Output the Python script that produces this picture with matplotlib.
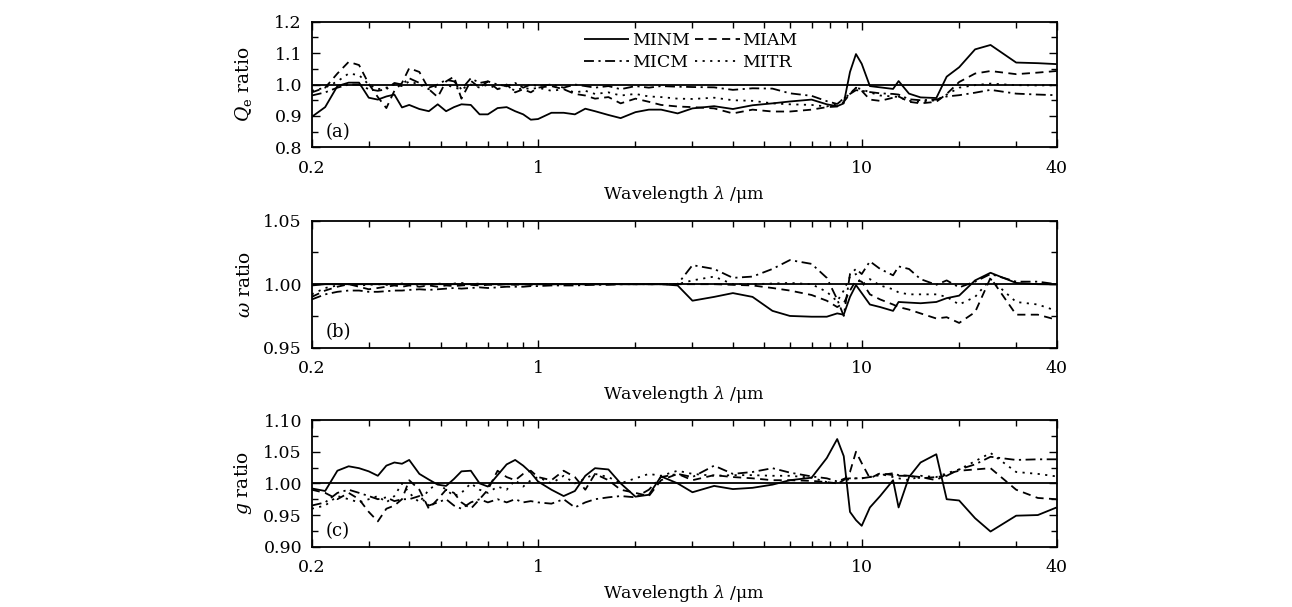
import matplotlib
matplotlib.use("Agg")
import matplotlib.pyplot as plt
from matplotlib.ticker import FixedLocator, MultipleLocator, NullFormatter

plt.rcParams['font.family'] = ['DejaVu Serif']
plt.rcParams['mathtext.fontset'] = 'dejavuserif'

# wavelength grid (um), shared by all series
wl = [0.2, 0.22, 0.24, 0.26, 0.28, 0.30, 0.32, 0.34, 0.36, 0.38,
      0.40, 0.43, 0.46, 0.49, 0.52, 0.55, 0.58, 0.62, 0.66, 0.70,
      0.75, 0.80, 0.85, 0.90, 0.95, 1.0, 1.1, 1.2, 1.3, 1.4,
      1.5, 1.65, 1.8, 2.0, 2.2, 2.4, 2.7, 3.0, 3.5, 4.0,
      4.6, 5.3, 6.0, 7.0, 7.8, 8.4, 8.8, 9.2, 9.6, 10.0,
      10.6, 11.4, 12.5, 13.0, 14.0, 15.2, 17.0, 18.3, 20.0, 22.4,
      25.0, 30.0, 35.0, 40.0]

series_names = ['MINM', 'MIAM', 'MICM', 'MITR']

# (a) extinction efficiency ratio
qe_minm = [0.897, 0.928, 0.995, 1.006, 1.006, 0.958, 0.952, 0.962, 0.968, 0.927,
           0.935, 0.922, 0.915, 0.937, 0.915, 0.928, 0.937, 0.935, 0.905, 0.905,
           0.925, 0.928, 0.915, 0.905, 0.888, 0.890, 0.910, 0.910, 0.905, 0.923,
           0.915, 0.903, 0.893, 0.912, 0.920, 0.920, 0.908, 0.924, 0.931, 0.922,
           0.934, 0.940, 0.946, 0.952, 0.937, 0.931, 0.940, 1.040, 1.097, 1.066,
           0.995, 0.991, 0.986, 1.011, 0.971, 0.959, 0.957, 1.025, 1.055, 1.112,
           1.126, 1.070, 1.068, 1.065]
qe_miam = [0.975, 0.990, 1.035, 1.072, 1.062, 1.002, 0.960, 0.925, 0.980, 1.005,
           1.052, 1.040, 0.985, 0.960, 1.010, 1.025, 0.955, 1.012, 0.990, 1.010,
           0.985, 1.000, 0.975, 0.985, 0.975, 0.990, 0.995, 0.985, 0.970, 0.965,
           0.955, 0.960, 0.940, 0.955, 0.945, 0.935, 0.930, 0.928, 0.924, 0.908,
           0.920, 0.914, 0.914, 0.920, 0.928, 0.930, 0.945, 0.970, 0.990, 0.980,
           0.952, 0.948, 0.958, 0.962, 0.945, 0.940, 0.945, 0.970, 1.008, 1.035,
           1.043, 1.033, 1.038, 1.043]
qe_micm = [0.965, 0.975, 0.990, 1.000, 1.000, 0.985, 0.980, 0.985, 1.005, 1.000,
           1.020, 1.005, 0.990, 1.000, 1.015, 1.010, 0.985, 1.020, 1.005, 1.010,
           1.000, 0.995, 1.005, 0.990, 1.000, 0.995, 1.000, 0.990, 1.000, 0.995,
           0.990, 0.995, 0.985, 0.995, 0.990, 0.995, 0.993, 0.992, 0.991, 0.983,
           0.988, 0.987, 0.972, 0.964, 0.947, 0.938, 0.955, 0.970, 0.982, 0.980,
           0.976, 0.972, 0.970, 0.968, 0.953, 0.950, 0.952, 0.962, 0.966, 0.974,
           0.983, 0.971, 0.968, 0.966]
qe_mitr = [0.980, 0.990, 1.010, 1.035, 1.030, 1.000, 0.985, 0.990, 1.000, 0.995,
           1.010, 1.000, 0.985, 0.995, 1.000, 0.990, 0.985, 1.000, 0.990, 1.000,
           0.985, 0.995, 0.980, 0.990, 0.985, 0.990, 0.980, 0.985, 0.975, 0.980,
           0.970, 0.975, 0.965, 0.970, 0.962, 0.960, 0.955, 0.954, 0.958, 0.950,
           0.948, 0.940, 0.937, 0.935, 0.930, 0.940, 0.955, 0.970, 0.990, 0.985,
           0.975, 0.965, 0.962, 0.960, 0.948, 0.945, 0.950, 0.968, 0.990, 0.998,
           1.003, 0.998, 0.997, 0.998]

# (b) single scattering albedo ratio
w_minm = [0.999, 1.000, 1.000, 1.000, 1.000, 1.000, 1.000, 1.000, 1.000, 1.000,
          1.000, 1.000, 1.000, 1.000, 1.000, 1.000, 1.000, 1.000, 1.000, 1.000,
          1.000, 1.000, 1.000, 1.000, 1.000, 1.000, 1.000, 1.000, 1.000, 1.000,
          1.000, 1.000, 1.000, 1.000, 1.000, 1.000, 0.999, 0.987, 0.990, 0.993,
          0.990, 0.979, 0.975, 0.9744, 0.9744, 0.977, 0.976, 0.990, 0.9993, 0.993,
          0.984, 0.982, 0.979, 0.986, 0.9855, 0.985, 0.986, 0.989, 0.991, 1.003,
          1.009, 1.001, 1.000, 0.9998]
w_miam = [0.990, 0.995, 0.998, 1.000, 0.998, 0.996, 0.997, 0.998, 0.999, 0.998,
          0.999, 0.998, 0.999, 0.998, 0.999, 0.9985, 0.999, 0.9995, 0.999, 0.9995,
          0.9995, 1.000, 0.9995, 1.000, 0.9995, 1.000, 1.000, 1.000, 1.000, 1.000,
          1.000, 1.000, 1.000, 1.000, 1.000, 1.000, 1.000, 1.000, 1.000, 0.9995,
          0.999, 0.997, 0.995, 0.9915, 0.987, 0.982, 0.985, 0.995, 1.003, 1.002,
          0.992, 0.988, 0.984, 0.982, 0.980, 0.977, 0.973, 0.974, 0.9695, 0.978,
          1.005, 0.976, 0.976, 0.972]
w_micm = [0.988, 0.992, 0.994, 0.995, 0.995, 0.994, 0.994, 0.9945, 0.995, 0.995,
          0.9955, 0.996, 0.9955, 0.996, 0.9965, 0.997, 0.9965, 0.997, 0.9975, 0.997,
          0.9975, 0.998, 0.998, 0.998, 0.9985, 0.9985, 0.999, 0.999, 0.999, 0.9993,
          0.9995, 0.9995, 1.000, 1.000, 1.000, 1.000, 1.000, 1.015, 1.012, 1.005,
          1.006, 1.012, 1.019, 1.016, 1.005, 0.988, 0.975, 1.008, 1.012, 1.008,
          1.018, 1.012, 1.007, 1.014, 1.012, 1.004, 0.9995, 1.003, 0.9975, 1.002,
          1.008, 1.002, 1.002, 1.000]
w_mitr = [0.992, 0.997, 0.999, 1.000, 0.999, 0.9995, 1.000, 0.9995, 1.000, 1.0005,
          1.000, 0.9995, 1.000, 1.0005, 1.000, 1.0005, 1.001, 1.000, 1.0005, 1.000,
          1.000, 1.000, 1.000, 1.000, 1.000, 1.000, 1.000, 1.000, 1.000, 1.000,
          1.000, 1.000, 1.000, 1.000, 1.000, 1.000, 1.000, 1.003, 1.006, 1.000,
          1.000, 1.0005, 1.001, 1.000, 0.994, 0.9865, 0.995, 1.006, 1.008, 0.9995,
          1.004, 0.999, 0.996, 0.9935, 0.992, 0.992, 0.992, 0.990, 0.984, 0.990,
          1.004, 0.986, 0.984, 0.979]

# (c) asymmetry factor ratio
g_minm = [0.992, 0.988, 1.020, 1.027, 1.024, 1.019, 1.012, 1.028, 1.033, 1.031,
          1.037, 1.015, 1.006, 0.998, 0.996, 1.007, 1.019, 1.020, 1.000, 0.995,
          1.013, 1.030, 1.037, 1.028, 1.017, 1.003, 0.990, 0.980, 0.988, 1.012,
          1.024, 1.022, 1.000, 0.979, 0.982, 1.011, 1.000, 0.986, 0.996, 0.991,
          0.993, 0.998, 1.005, 1.009, 1.040, 1.070, 1.043, 0.955, 0.942, 0.933,
          0.962, 0.980, 1.005, 0.962, 1.010, 1.033, 1.046, 0.975, 0.973, 0.945,
          0.924, 0.949, 0.950, 0.962]
g_miam = [0.990, 0.985, 0.975, 0.985, 0.975, 0.955, 0.940, 0.960, 0.965, 0.975,
          1.005, 0.990, 0.960, 0.975, 0.990, 0.985, 0.970, 0.960, 0.975, 0.990,
          1.020, 1.010, 1.005, 1.015, 1.020, 1.010, 1.005, 1.020, 1.010, 0.990,
          1.015, 1.005, 0.990, 0.985, 0.980, 1.005, 1.015, 1.005, 1.013, 1.010,
          1.008, 1.005, 1.005, 1.004, 1.002, 1.000, 1.005, 1.018, 1.050, 1.032,
          1.008, 1.016, 1.013, 1.012, 1.012, 1.010, 1.005, 1.015, 1.020, 1.022,
          1.024, 0.990, 0.977, 0.975]
g_micm = [0.965, 0.970, 0.985, 0.990, 0.985, 0.980, 0.975, 0.978, 0.972, 0.975,
          0.975, 0.980, 0.965, 0.970, 0.975, 0.965, 0.960, 0.970, 0.975, 0.970,
          0.975, 0.970, 0.975, 0.970, 0.972, 0.970, 0.968, 0.975, 0.962, 0.970,
          0.975, 0.978, 0.980, 0.978, 0.990, 1.010, 1.015, 1.010, 1.028, 1.015,
          1.018, 1.024, 1.017, 1.011, 1.008, 1.003, 1.007, 1.008, 1.008, 1.008,
          1.010, 1.013, 1.016, 1.013, 1.012, 1.008, 1.010, 1.012, 1.022, 1.030,
          1.042, 1.037, 1.038, 1.038]
g_mitr = [0.960, 0.965, 0.980, 0.975, 0.970, 0.975, 0.980, 0.970, 0.980, 1.000,
          0.985, 0.970, 0.990, 1.000, 0.990, 0.980, 0.985, 1.000, 0.990, 0.985,
          0.995, 0.990, 1.005, 0.995, 1.005, 1.010, 1.000, 1.012, 1.000, 1.008,
          1.015, 1.010, 1.000, 1.008, 1.015, 1.012, 1.020, 1.015, 1.012, 1.013,
          1.013, 1.012, 1.012, 1.009, 1.002, 1.000, 1.004, 1.007, 1.008, 1.008,
          1.010, 1.015, 1.010, 1.008, 1.005, 1.012, 1.010, 1.016, 1.022, 1.035,
          1.048, 1.018, 1.015, 1.011]

x_major = [0.2, 1, 10, 40]
x_major_labels = ['0.2', '1', '10', '40']
x_minor = [0.3, 0.4, 0.5, 0.6, 0.7, 0.8, 0.9, 2, 3, 4, 5, 6, 7, 8, 9, 20, 30]

STYLES = {
    'MINM': (0, ()),
    'MIAM': (0, (4.5, 3)),
    'MICM': (0, (5.5, 2.5, 1.2, 2.5)),
    'MITR': (0, (1.2, 3)),
}


def draw_panel(ax, data, ylim, ymajor, yminor, ylabel, tag, yfmt):
    ax.axhline(1.0, color='black', lw=1.3, zorder=1)
    lines = {}
    for name, vals in zip(series_names, data):
        ln, = ax.plot(wl, vals, color='black', lw=1.3, linestyle=STYLES[name], label=name)
        lines[name] = ln
    ax.set_xscale('log')
    ax.set_xlim(0.2, 40)
    ax.set_ylim(*ylim)
    ax.xaxis.set_major_locator(FixedLocator(x_major))
    ax.set_xticklabels(x_major_labels)
    ax.xaxis.set_minor_locator(FixedLocator(x_minor))
    ax.xaxis.set_minor_formatter(NullFormatter())
    ax.yaxis.set_major_locator(MultipleLocator(ymajor))
    ax.yaxis.set_minor_locator(MultipleLocator(yminor))
    ax.yaxis.set_major_formatter(plt.FormatStrFormatter(yfmt))
    ax.tick_params(which='both', direction='in', top=True, right=True, labelsize=12.5)
    ax.tick_params(axis='x', which='major', pad=9)
    ax.tick_params(axis='y', which='major', pad=7)
    ax.tick_params(which='major', length=6, width=1)
    ax.tick_params(which='minor', length=4, width=1)
    for s in ax.spines.values():
        s.set_linewidth(1.3)
    ax.set_xlabel('Wavelength $\\lambda$ /\u03bcm', fontsize=12.5, labelpad=5)
    ax.set_ylabel(ylabel, fontsize=13.5)
    ax.yaxis.set_label_coords(-0.078, 0.5)
    ax.text(0.019, 0.05, tag, transform=ax.transAxes, fontsize=13, va='bottom')
    return lines


def main():
    fig = plt.figure(figsize=(12.92, 6.07), dpi=100)
    left, width = 0.2413, 0.5765
    ax_a = fig.add_axes([left, 0.7573, width, 0.2069])
    ax_b = fig.add_axes([left, 0.4272, width, 0.2092])
    ax_c = fig.add_axes([left, 0.0993, width, 0.2087])

    lines = draw_panel(ax_a, [qe_minm, qe_miam, qe_micm, qe_mitr], (0.8, 1.2), 0.1, 0.05,
                       '$Q_\\mathrm{e}$ ratio', '(a)', '%.1f')
    draw_panel(ax_b, [w_minm, w_miam, w_micm, w_mitr], (0.95, 1.05), 0.05, 0.025,
               '$\\omega$ ratio', '(b)', '%.2f')
    draw_panel(ax_c, [g_minm, g_miam, g_micm, g_mitr], (0.90, 1.10), 0.05, 0.025,
               '$g$ ratio', '(c)', '%.2f')

    order = ['MINM', 'MICM', 'MIAM', 'MITR']
    ax_a.legend([lines[n] for n in order], order, ncol=2, frameon=False,
                loc='center', bbox_to_anchor=(0.509, 0.76), fontsize=12.5,
                handlelength=2.6, handletextpad=0.15, columnspacing=0.3,
                labelspacing=0.3, borderpad=0.1)

    fig.savefig('out.png', dpi=100)


if __name__ == "__main__":
    main()
